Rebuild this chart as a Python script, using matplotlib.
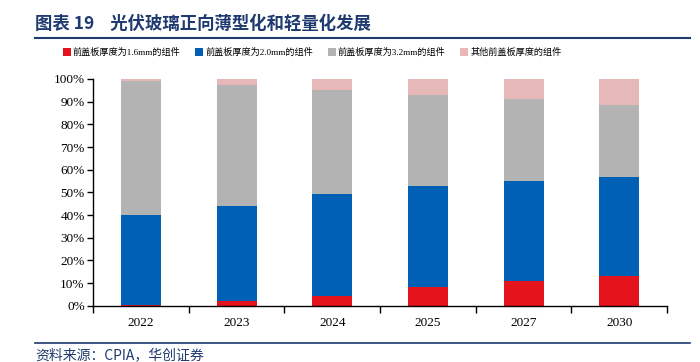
import matplotlib
matplotlib.use("Agg")
import matplotlib.pyplot as plt
import numpy as np
from matplotlib.lines import Line2D

years = ["2022", "2023", "2024", "2025", "2027", "2030"]
s_16 = [0.3, 2.0, 4.5, 8.3, 11.0, 13.0]
s_20 = [39.7, 42.0, 45.0, 44.7, 44.0, 44.0]
s_32 = [59.0, 53.5, 45.5, 40.0, 36.0, 31.7]
s_other = [1.0, 2.5, 5.0, 7.0, 9.0, 11.3]
names = ["前盖板厚度为1.6mm的组件", "前盖板厚度为2.0mm的组件",
         "前盖板厚度为3.2mm的组件", "其他前盖板厚度的组件"]
colors = ["#E5131C", "#0060B6", "#B3B3B3", "#E6B9B8"]

fam = ["Liberation Serif", "Noto Sans CJK SC"]
plt.rcParams["font.family"] = fam

fig = plt.figure(figsize=(7, 3.62), dpi=100)
ax = fig.add_axes([0.133, 0.155, 0.82, 0.627])

x = np.arange(len(years))
bottom = np.zeros(len(years))
handles = []
for vals, c, n in zip([s_16, s_20, s_32, s_other], colors, names):
    b = ax.bar(x, vals, 0.42, bottom=bottom, color=c, label=n, edgecolor="none")
    bottom += np.array(vals)
    handles.append(b)

ax.set_xlim(-0.5, len(years) - 0.5)
ax.set_ylim(0, 100)
ax.set_yticks(np.arange(0, 101, 10))
ax.set_yticklabels([f"{v}%" for v in range(0, 101, 10)], fontsize=9.5)
ax.set_xticks(x)
ax.set_xticklabels(years, fontsize=9.5)
ax.tick_params(axis="x", length=0, pad=8)
ax.set_xticks(np.arange(-0.5, len(years), 1), minor=True)
ax.tick_params(axis="x", which="minor", length=5, direction="out", width=1)
ax.tick_params(axis="y", length=4, direction="out", width=1, pad=2)
for s in ["top", "right"]:
    ax.spines[s].set_visible(False)
for s in ["left", "bottom"]:
    ax.spines[s].set_linewidth(1)
    ax.spines[s].set_color("black")

fig.legend(handles=handles, labels=names, loc="center left", bbox_to_anchor=(0.078, 0.855),
           ncol=4, frameon=False, handlelength=0.85, handleheight=0.85,
           handletextpad=0.25, columnspacing=1.6,
           prop={"family": ["Liberation Serif", "Noto Sans CJK SC"], "size": 6.6})

navy = "#1F3A6E"
fig.text(0.05, 0.935, "图表 19    光伏玻璃正向薄型化和轻量化发展", fontsize=12.5,
         fontweight="bold", color=navy, family=["Noto Sans CJK SC"], va="center")
fig.add_artist(Line2D([0.05, 0.985], [0.895, 0.895], color=navy, lw=1.5, transform=fig.transFigure))
fig.add_artist(Line2D([0.05, 0.985], [0.052, 0.052], color=navy, lw=1.2, transform=fig.transFigure))
fig.text(0.05, 0.02, "资料来源：CPIA，华创证券", fontsize=10, style="italic",
         color=navy, family=["Noto Sans CJK SC"], va="center")

fig.savefig("out.png", dpi=100)
